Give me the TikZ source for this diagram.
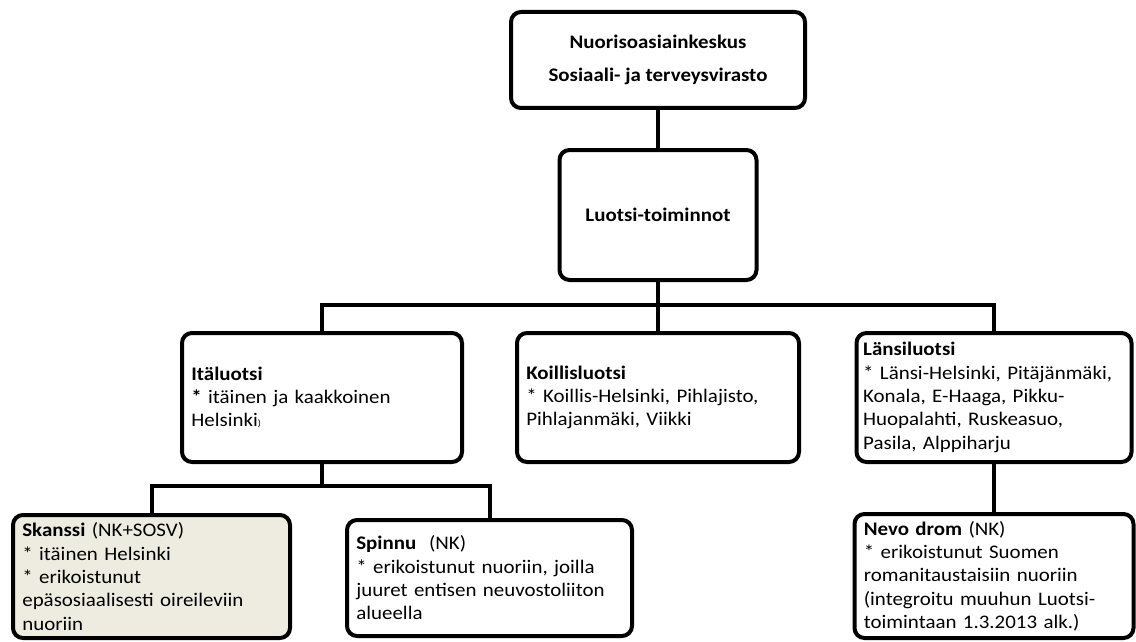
\documentclass[tikz,border=0pt]{standalone}
\usepackage{fontspec}
\setmainfont{Carlito}[FakeStretch=1.09]
\usepackage{tikz}
\definecolor{skanssifill}{HTML}{EEECE1}

\begin{document}
\begin{tikzpicture}[x=0.75pt, y=-0.75pt,
  box/.style={draw=black, line width=3pt, rounded corners=7.5pt, inner xsep=7pt, align=left, font=\fontsize{14.4}{17.5}\selectfont},
  headbox/.style={box, align=center, font=\fontsize{14.4}{25}\selectfont\bfseries},
  line/.style={black, line width=3pt}]
\useasboundingbox (0,0) rectangle (1136,642);
\node[headbox, minimum width=220.5pt, minimum height=72pt] (keskus) at (658,60) {Nuorisoasiainkeskus\\Sosiaali- ja terveysvirasto};
\node[headbox, minimum width=147.75pt, minimum height=97.5pt] (luotsi) at (658,215) {Luotsi-toiminnot};
\node[box, text width=196pt, minimum height=96.75pt] (ita) at (322,397.5) {\textbf{Itäluotsi}\\{}\textbf{*} itäinen ja kaakkoinen\\Helsinki{\scriptsize)}};
\node[box, text width=197.5pt, minimum height=96.75pt] (koillis) at (658,397.5) {\textbf{Koillisluotsi}\\{}* Koillis-Helsinki, Pihlajisto,\\Pihlajanmäki, Viikki};
\node[box, text width=196.25pt, inner xsep=5pt, minimum height=96.75pt] (lansi) at (994,397.5) {\textbf{Länsiluotsi}\\{}* Länsi-Helsinki, Pitäjänmäki,\\Konala, E-Haaga, Pikku-\\Huopalahti, Ruskeasuo,\\Pasila, Alppiharju};
\node[box, fill=skanssifill, text width=193.75pt, minimum height=92.25pt] (skanssi) at (151.5,576.5) {\textbf{Skanssi} (NK+SOSV)\\{}* itäinen Helsinki\\{}* erikoistunut\\epäsosiaalisesti oireileviin\\nuoriin};
\node[box, text width=199.75pt, minimum height=87pt] (spinnu) at (489.5,578) {\textbf{Spinnu}\ \ (NK)\\{}* erikoistunut nuoriin, joilla\\juuret entisen neuvostoliiton\\alueella};
\node[box, text width=195.25pt, minimum height=93pt] (nevo) at (994,576) {\textbf{Nevo drom} (NK)\\{}* erikoistunut Suomen\\romanitaustaisiin nuoriin\\(integroitu muuhun Luotsi-\\toimintaan 1.3.2013 alk.)};
\draw[line] (keskus) -- (luotsi);
\draw[line] (luotsi) -- (koillis);
\draw[line] (ita.north) -- ++(0,-26) -| (lansi.north);
\draw[line] (skanssi.north) -- ++(0,-27) coordinate (alarima) -| (spinnu.north);
\draw[line] (ita.south) -- (ita.south |- alarima);
\draw[line] (lansi) -- (nevo);
\end{tikzpicture}
\end{document}
